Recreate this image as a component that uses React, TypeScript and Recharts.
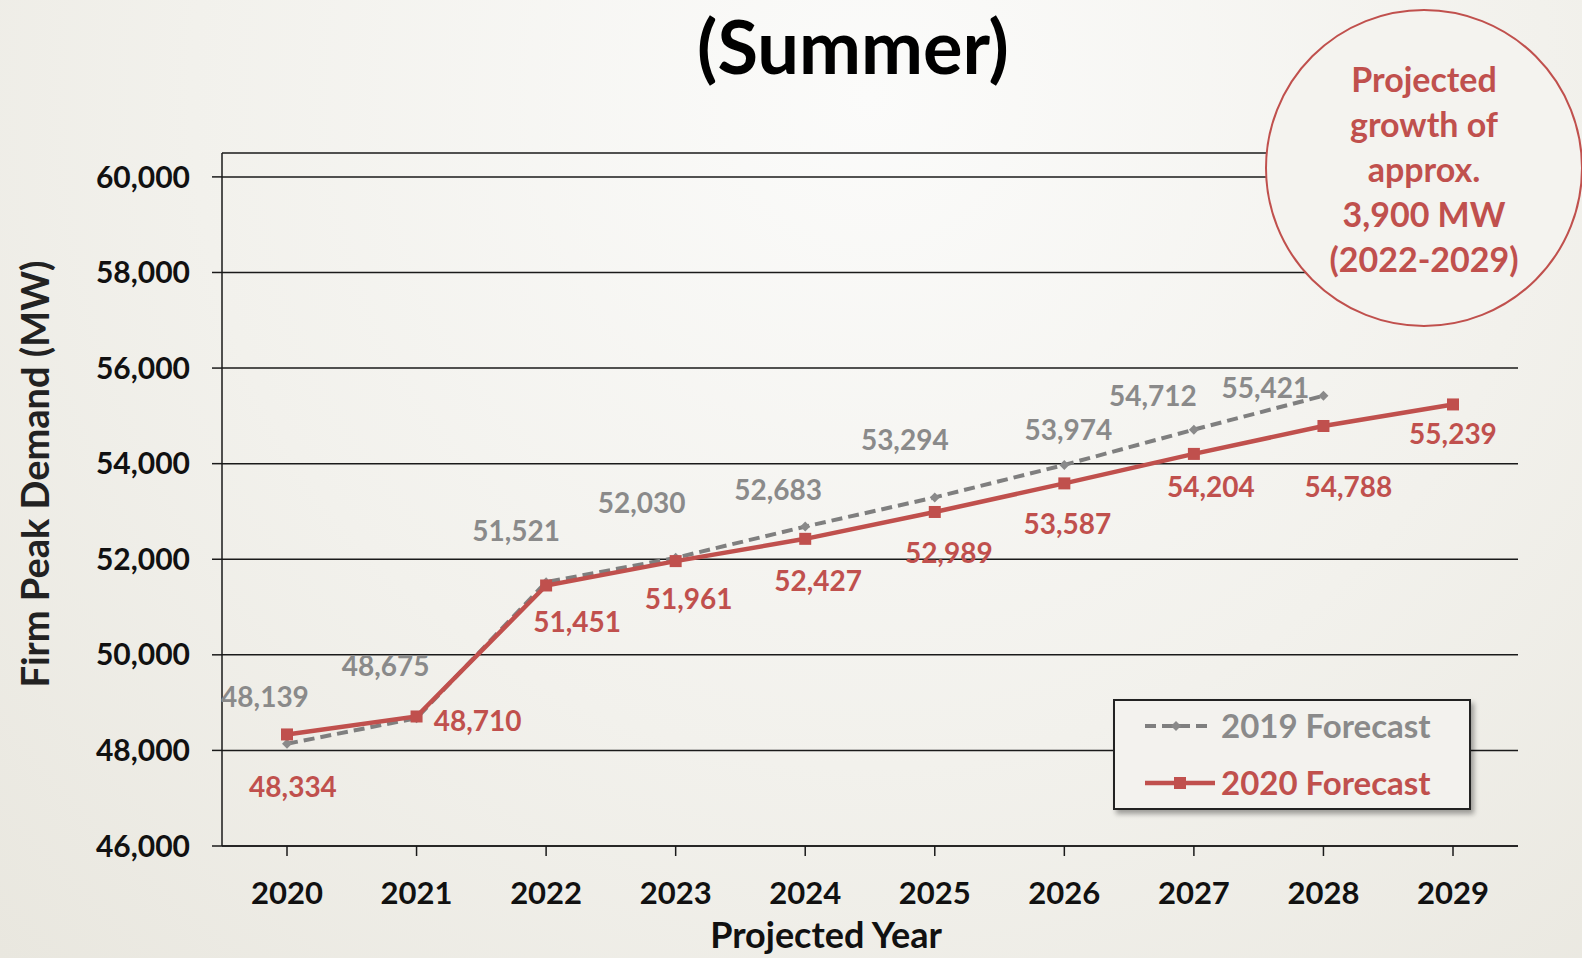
import {
  CartesianGrid,
  LabelList,
  Line,
  LineChart,
  XAxis,
  YAxis,
} from 'recharts'

const years = ['2020', '2021', '2022', '2023', '2024', '2025', '2026', '2027', '2028', '2029']
const forecast2019 = [48139, 48675, 51521, 52030, 52683, 53294, 53974, 54712, 55421, null]
const forecast2020 = [48334, 48710, 51451, 51961, 52427, 52989, 53587, 54204, 54788, 55239]
const yTicks = [46000, 48000, 50000, 52000, 54000, 56000, 58000, 60000]
const circleLines = ['Projected', 'growth of', 'approx.', '3,900 MW', '(2022-2029)']

// label nudges (px) so the numbers sit where the original puts them
const offsets2019 = [[-22, -48], [-31, -53], [-30, -52], [-34, -56], [-27, -38], [-30, -58], [4, -36], [-41, -35], [-58, -9]]
const offsets2020 = [[6, 52], [61, 4], [31, 36], [13, 37], [13, 41], [14, 40], [3, 40], [17, 32], [25, 60], [0, 29]]

const data = years.map((year, i) => ({
  year,
  f2019: forecast2019[i],
  f2020: forecast2020[i],
}))

const FONT = 'Lato, "Noto Sans", sans-serif'
const GRAY = '#8a8a8a'
const RED = '#c0504d'

const fmt = (v: number) => v.toLocaleString('en-US')

function makeLabel(offsets: number[][], color: string) {
  return (props: any) => {
    const { x, y, index, value } = props
    if (value == null) return null
    const [dx, dy] = offsets[index] || [0, 0]
    return (
      <text
        x={x + dx}
        y={y + dy}
        textAnchor='middle'
        dominantBaseline='central'
        fill={color}
        fontSize={28}
        fontWeight={700}
        fontFamily={FONT}
      >
        {fmt(value)}
      </text>
    )
  }
}

const Diamond = (props: any) => {
  const { cx, cy } = props
  if (cx == null || cy == null) return <g />
  return <path d={`M${cx},${cy - 5} L${cx + 5},${cy} L${cx},${cy + 5} L${cx - 5},${cy} Z`} fill={GRAY} />
}

const Square = (props: any) => {
  const { cx, cy } = props
  if (cx == null || cy == null) return <g />
  return <rect x={cx - 6} y={cy - 6} width={12} height={12} fill={RED} />
}

export default function App() {
  return (
    <div
      style={{
        position: 'absolute',
        left: 0,
        top: 0,
        width: 1582,
        height: 958,
        overflow: 'hidden',
        fontFamily: FONT,
        background: 'radial-gradient(ellipse at 55% 10%, #fbfbfa 0%, #f2f1ec 55%, #e9e7df 100%)',
      }}
    >
      <div
        style={{
          position: 'absolute',
          left: 553,
          width: 600,
          top: 2,
          textAlign: 'center',
          fontSize: 74,
          fontWeight: 700,
          color: '#000',
          lineHeight: '88px',
        }}
      >
        (Summer)
      </div>

      <LineChart
        width={1582}
        height={958}
        data={data}
        margin={{ top: 153, right: 64, left: 0, bottom: 0 }}
        style={{ position: 'absolute', left: 0, top: 0 }}
      >
        <CartesianGrid vertical={false} stroke='#1a1a1a' strokeWidth={1.5} />
        <XAxis
          dataKey='year'
          height={112}
          padding={{ left: 65, right: 65 }}
          axisLine={{ stroke: '#1a1a1a', strokeWidth: 1.5 }}
          tickLine={{ stroke: '#1a1a1a', strokeWidth: 1.5 }}
          tickSize={10}
          tickMargin={26}
          tick={{ fill: '#111', fontSize: 31, fontWeight: 700, fontFamily: FONT }}
        />
        <XAxis
          xAxisId='top'
          dataKey='year'
          orientation='top'
          height={0}
          tick={false}
          tickLine={false}
          axisLine={{ stroke: '#1a1a1a', strokeWidth: 1.5 }}
        />
        <YAxis
          width={222}
          domain={[46000, 60500]}
          ticks={yTicks}
          interval={0}
          tickFormatter={fmt}
          axisLine={{ stroke: '#1a1a1a', strokeWidth: 1.5 }}
          tickLine={{ stroke: '#1a1a1a', strokeWidth: 1.5 }}
          tickSize={10}
          tickMargin={22}
          tick={{ fill: '#111', fontSize: 30, fontWeight: 700, fontFamily: FONT }}
        />
        <YAxis
          yAxisId='right'
          orientation='right'
          width={0}
          tick={false}
          tickLine={false}
          axisLine={{ stroke: '#1a1a1a', strokeWidth: 1.5 }}
        />
        <Line
          dataKey='f2019'
          stroke='#7f7f7f'
          strokeWidth={4}
          strokeDasharray='11 6'
          dot={<Diamond />}
          activeDot={false}
          isAnimationActive={false}
          connectNulls={false}
        >
          <LabelList dataKey='f2019' content={makeLabel(offsets2019, GRAY)} />
        </Line>
        <Line
          dataKey='f2020'
          stroke={RED}
          strokeWidth={4.5}
          dot={<Square />}
          activeDot={false}
          isAnimationActive={false}
        >
          <LabelList dataKey='f2020' content={makeLabel(offsets2020, RED)} />
        </Line>
      </LineChart>

      {/* axis titles */}
      <div
        style={{
          position: 'absolute',
          left: 34,
          top: 474,
          transform: 'translate(-50%, -50%) rotate(-90deg)',
          whiteSpace: 'nowrap',
          fontSize: 38,
          fontWeight: 700,
          color: '#222',
        }}
      >
        Firm Peak Demand (MW)
      </div>
      <div
        style={{
          position: 'absolute',
          left: 826,
          top: 934,
          transform: 'translate(-50%, -50%)',
          whiteSpace: 'nowrap',
          fontSize: 36,
          lineHeight: '40px',
          fontWeight: 700,
          color: '#111',
        }}
      >
        Projected Year
      </div>

      {/* legend */}
      <div
        style={{
          position: 'absolute',
          left: 1113,
          top: 699,
          width: 358,
          height: 111,
          boxSizing: 'border-box',
          border: '2px solid #222',
          background: '#f3f2ee',
          boxShadow: '3px 4px 5px rgba(0,0,0,0.35)',
        }}
      >
        <svg width={90} height={111} style={{ position: 'absolute', left: 28, top: 0 }}>
          <line x1={2} x2={64} y1={25} y2={25} stroke='#7f7f7f' strokeWidth={4} strokeDasharray='11 6' />
          <path d='M33,20 L38,25 L33,30 L28,25 Z' fill={GRAY} />
          <line x1={2} x2={72} y1={82} y2={82} stroke={RED} strokeWidth={4.5} />
          <rect x={31} y={76} width={12} height={12} fill={RED} />
        </svg>
        <div style={{ position: 'absolute', left: 106, top: 3, fontSize: 33, color: GRAY, fontWeight: 700, lineHeight: '42px' }}>
          2019 Forecast
        </div>
        <div style={{ position: 'absolute', left: 106, top: 60, fontSize: 33, color: RED, fontWeight: 700, lineHeight: '42px' }}>
          2020 Forecast
        </div>
      </div>

      {/* callout circle */}
      <div
        style={{
          position: 'absolute',
          left: 1265,
          top: 9,
          width: 318,
          height: 318,
          boxSizing: 'border-box',
          borderRadius: '50%',
          border: `2.5px solid ${RED}`,
          background: '#f4f3ef',
          display: 'flex',
          flexDirection: 'column',
          alignItems: 'center',
          justifyContent: 'center',
          color: RED,
          fontWeight: 700,
          fontSize: 34,
          lineHeight: '45px',
        }}
      >
        {circleLines.map((t) => (
          <div key={t}>{t}</div>
        ))}
      </div>
    </div>
  )
}
